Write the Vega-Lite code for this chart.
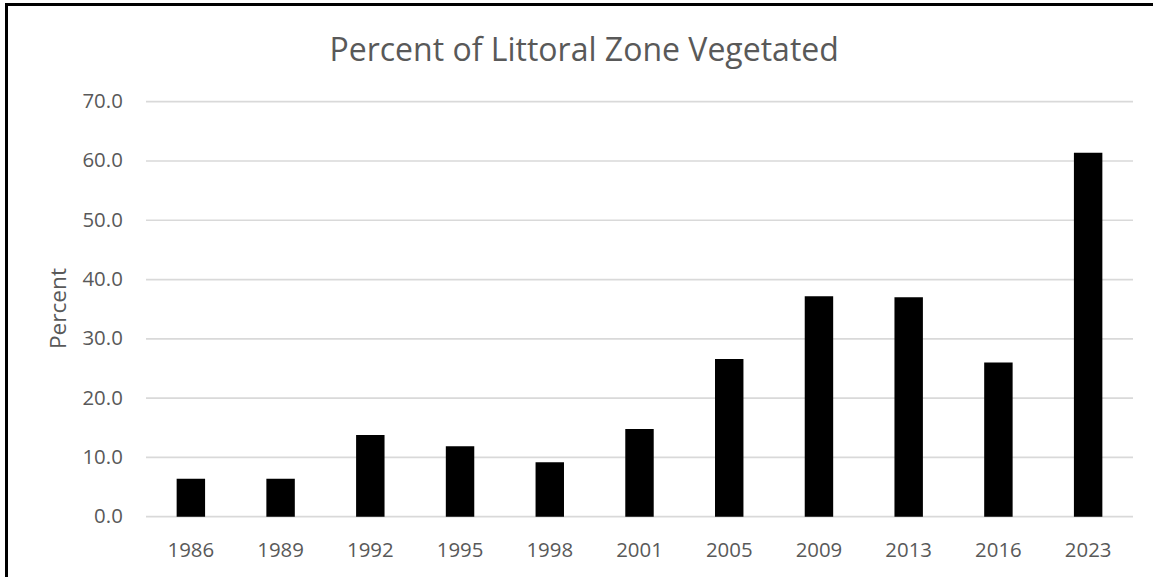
{
  "$schema": "https://vega.github.io/schema/vega-lite/v6.json",
  "width": 1152.5,
  "height": 578.5,
  "autosize": {"type": "none"},
  "padding": {"left": 6.5, "top": 4.5, "right": -6, "bottom": -6},
  "background": "white",
  "title": {
    "text": "Percent of Littoral Zone Vegetated",
    "frame": "group",
    "anchor": "middle",
    "orient": "top",
    "offset": -88,
    "baseline": "alphabetic",
    "dx": 1.4,
    "font": "Open Sans",
    "fontSize": 32,
    "fontWeight": "normal",
    "color": "#595959"
  },
  "config": {
    "view": {"stroke": "black", "strokeWidth": 3, "strokeDash": [1152.5, 1731, 600], "fill": "white"},
    "font": "Open Sans",
    "axis": {
      "labelFont": "Open Sans",
      "labelColor": "#595959",
      "labelFontSize": 20.4,
      "titleFont": "Open Sans",
      "titleColor": "#595959",
      "titleFontWeight": "normal",
      "ticks": false,
      "domain": false,
      "grid": false
    }
  },
  "layer": [
    {
      "data": {"values": [
        {"tick": 0}, {"tick": 10}, {"tick": 20}, {"tick": 30},
        {"tick": 40}, {"tick": 50}, {"tick": 60}, {"tick": 70}
      ]},
      "mark": {"type": "rule", "color": "#D9D9D9", "strokeWidth": 1.7},
      "encoding": {
        "x": {"datum": 0, "type": "quantitative", "scale": {"domain": [0, 1], "range": [139.5, 1126.5]}, "axis": null},
        "x2": {"datum": 1},
        "y": {
          "field": "tick", "type": "quantitative",
          "scale": {"domain": [0, 70], "range": [512.2, 97.2]},
          "axis": {
            "orient": "left", "offset": -139.5, "values": [0, 10, 20, 30, 40, 50, 60, 70],
            "format": ".1f", "labelPadding": 23.7, "labelBaseline": "middle",
            "title": "Percent", "titleFontSize": 22.6, "titleX": -81, "titleY": 303.5,
            "titleAngle": 270, "titleAlign": "center", "titleBaseline": "alphabetic"
          }
        }
      }
    },
    {
      "data": {"values": [
        {"Year": "1986", "Percent": 6.4},
        {"Year": "1989", "Percent": 6.4},
        {"Year": "1992", "Percent": 13.8},
        {"Year": "1995", "Percent": 11.9},
        {"Year": "1998", "Percent": 9.2},
        {"Year": "2001", "Percent": 14.8},
        {"Year": "2005", "Percent": 26.6},
        {"Year": "2009", "Percent": 37.2},
        {"Year": "2013", "Percent": 37.0},
        {"Year": "2016", "Percent": 26.0},
        {"Year": "2023", "Percent": 61.4}
      ]},
      "mark": {"type": "bar", "color": "black"},
      "encoding": {
        "x": {
          "field": "Year", "type": "ordinal",
          "scale": {"range": [139.5, 1126.5], "paddingInner": 0.683, "paddingOuter": 0.3415},
          "axis": {
            "orient": "bottom", "offset": -66.3, "labelAngle": 0,
            "labelBaseline": "alphabetic", "labelPadding": 39.3, "title": null
          }
        },
        "y": {
          "field": "Percent", "type": "quantitative",
          "scale": {"domain": [0, 70], "range": [512.2, 97.2]},
          "axis": {
            "orient": "left", "offset": -139.5, "values": [0, 10, 20, 30, 40, 50, 60, 70],
            "format": ".1f", "labelPadding": 23.7, "labelBaseline": "middle",
            "title": "Percent", "titleFontSize": 22.6, "titleX": -81, "titleY": 303.5,
            "titleAngle": 270, "titleAlign": "center", "titleBaseline": "alphabetic"
          }
        }
      }
    }
  ],
  "resolve": {"scale": {"x": "independent"}, "axis": {"x": "independent"}}
}
